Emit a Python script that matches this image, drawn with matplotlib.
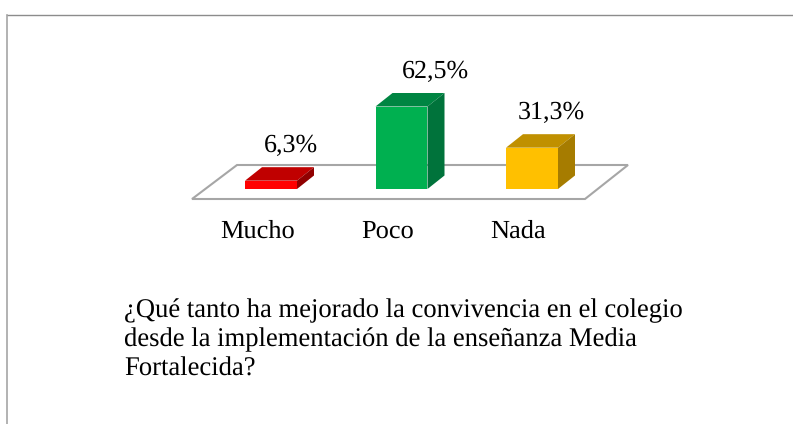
from matplotlib.lines import Line2D
from matplotlib.patches import Polygon
import matplotlib.pyplot as plt

categories = ["Mucho", "Poco", "Nada"]
values = [6.3, 62.5, 31.3]
value_labels = ["6,3%", "62,5%", "31,3%"]
question_lines = [
    "¿Qué tanto ha mejorado la convivencia en el colegio",
    "desde la implementación de la enseñanza Media",
    "Fortalecida?",
]

front_colors = ["#ff0000", "#00b050", "#ffc000"]
top_colors = ["#c00000", "#008542", "#c09000"]
side_colors = ["#900000", "#00733b", "#a67c00"]

W, H = 793, 424
PX_X = 130.5  # pixels per category
PX_Y = 1.32  # pixels per percent
BASE_X, BASE_Y = 271, 189  # pixel position of first bar centre / zero line
BAR_W = 52 / PX_X
DX = 17 / PX_X
DY = 13.5 / PX_Y


def draw_bar(ax, x, value, front, top, side):
    left, right = x - BAR_W / 2, x + BAR_W / 2
    ax.add_patch(Polygon([(left, 0), (right, 0), (right, value), (left, value)],
                         facecolor=front, edgecolor="none", zorder=3))
    ax.add_patch(Polygon([(left, value), (right, value), (right + DX, value + DY), (left + DX, value + DY)],
                         facecolor=top, edgecolor="none", zorder=3))
    ax.add_patch(Polygon([(right, 0), (right + DX, DY), (right + DX, value + DY), (right, value)],
                         facecolor=side, edgecolor="none", zorder=3))


def run():
    plt.rcParams["font.family"] = ["Liberation Serif", "DejaVu Serif"]
    plt.rcParams["text.hinting"] = "none"

    fig = plt.figure(figsize=(W / 100, H / 100), dpi=100)
    ax = fig.add_axes([0, 0, 1, 1])
    ax.set_xlim(-BASE_X / PX_X, (W - BASE_X) / PX_X)
    ax.set_ylim((BASE_Y - H) / PX_Y, BASE_Y / PX_Y)
    ax.axis("off")

    # outer frame, top and left only
    fig.add_artist(Line2D([6.5 / W, 1], [1 - 14.5 / H, 1 - 14.5 / H], color="#8c8c8c", lw=1.0))
    fig.add_artist(Line2D([7 / W, 7 / W], [0, 1 - 14.5 / H], color="#a6a6a6", lw=1.2))

    # floor
    floor = [
        ((192 - BASE_X) / PX_X, (BASE_Y - 199) / PX_Y),
        ((585 - BASE_X) / PX_X, (BASE_Y - 199) / PX_Y),
        ((628 - BASE_X) / PX_X, (BASE_Y - 165) / PX_Y),
        ((237 - BASE_X) / PX_X, (BASE_Y - 165) / PX_Y),
    ]
    ax.add_patch(Polygon(floor, facecolor="white", edgecolor="#a6a6a6", lw=1.5, zorder=1))

    label_dx = [20, 34, 19.5]
    for i, value in enumerate(values):
        draw_bar(ax, i, value, front_colors[i], top_colors[i], side_colors[i])
        ax.annotate(value_labels[i], (i, value), xytext=(label_dx[i], 29),
                    textcoords="offset pixels", ha="center", va="baseline",
                    fontsize=18.7, color="black", zorder=4)
        ax.annotate(categories[i], (i, 0), xytext=(-13.5, -49),
                    textcoords="offset pixels", ha="center", va="baseline",
                    fontsize=19, color="black", zorder=4)

    for k, line in enumerate(question_lines):
        fig.text(124 / W, 1 - (317 + 29.5 * k) / H, line, ha="left", va="baseline",
                 fontsize=19.2, color="black")

    fig.savefig("out.png", dpi=100)


if __name__ == "__main__":
    run()
